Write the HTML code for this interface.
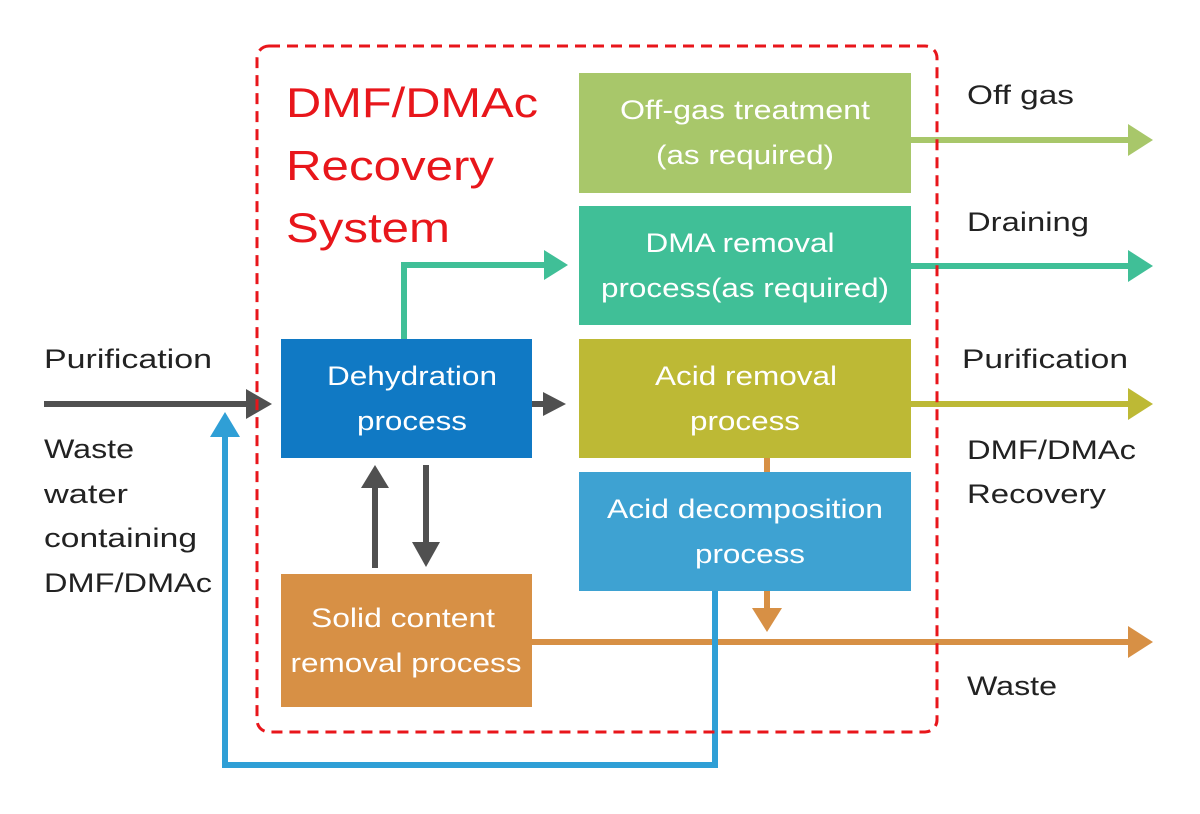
<!DOCTYPE html>
<html><head><meta charset="utf-8"><style>
html,body{margin:0;padding:0;background:#fff;}
svg{display:block;}
text{font-family:"Liberation Sans",sans-serif;}
.w{fill:#fff;font-size:27px;text-anchor:middle;}
.k{fill:#222;font-size:27px;}
.r{fill:#e8161b;font-size:42px;}
</style></head><body>
<svg width="1200" height="814" viewBox="0 0 1200 814" xmlns="http://www.w3.org/2000/svg">
<rect x="579" y="73" width="332" height="120" fill="#a8c76a"/>
<rect x="579" y="206" width="332" height="119" fill="#40bf97"/>
<rect x="579" y="339" width="332" height="119" fill="#bdb935"/>
<rect x="579" y="472" width="332" height="119" fill="#3ea2d2"/>
<rect x="281" y="339" width="251" height="119" fill="#1079c4"/>
<rect x="281" y="574" width="251" height="133" fill="#d79045"/>

<g stroke-width="6" fill="none">
<line x1="44" y1="404" x2="250" y2="404" stroke="#505050"/>
<line x1="532" y1="404" x2="548" y2="404" stroke="#505050"/>
<line x1="375" y1="568" x2="375" y2="485" stroke="#505050"/>
<line x1="426" y1="465" x2="426" y2="545" stroke="#505050"/>
<polyline points="404,339 404,265 546,265" stroke="#40bf97"/>
<line x1="911" y1="140" x2="1130" y2="140" stroke="#a8c76a"/>
<line x1="911" y1="266" x2="1130" y2="266" stroke="#40bf97"/>
<line x1="911" y1="404" x2="1130" y2="404" stroke="#bdb935"/>
<line x1="532" y1="642" x2="1130" y2="642" stroke="#d79045"/>
<line x1="767" y1="458" x2="767" y2="472" stroke="#d79045"/>
<line x1="767" y1="591" x2="767" y2="612" stroke="#d79045"/>
<polyline points="715,591 715,765 225,765 225,435" stroke="#2f9fd6"/>
</g>
<polygon points="246,389 272,404 246,419" fill="#505050"/>
<polygon points="543,392 566,404 543,416" fill="#505050"/>
<polygon points="361,488 375,465 389,488" fill="#505050"/>
<polygon points="412,542 426,567 440,542" fill="#505050"/>
<polygon points="544,250 568,265 544,280" fill="#40bf97"/>
<polygon points="1128,124 1153,140 1128,156" fill="#a8c76a"/>
<polygon points="1128,250 1153,266 1128,282" fill="#40bf97"/>
<polygon points="1128,388 1153,404 1128,420" fill="#bdb935"/>
<polygon points="1128,626 1153,642 1128,658" fill="#d79045"/>
<polygon points="752,608 767,632 782,608" fill="#d79045"/>
<polygon points="210,437 225,412 240,437" fill="#2f9fd6"/>

<rect x="257" y="46" width="680" height="686" rx="12" fill="none" stroke="#e8161b" stroke-width="3" stroke-dasharray="11,7"/>

<text class="r" x="286" y="117" textLength="252" lengthAdjust="spacingAndGlyphs">DMF/DMAc</text>
<text class="r" x="286" y="180" textLength="208" lengthAdjust="spacingAndGlyphs">Recovery</text>
<text class="r" x="286" y="242" textLength="164" lengthAdjust="spacingAndGlyphs">System</text>

<text class="w" x="745" y="119" textLength="250" lengthAdjust="spacingAndGlyphs">Off-gas treatment</text>
<text class="w" x="745" y="164" textLength="178" lengthAdjust="spacingAndGlyphs">(as required)</text>
<text class="w" x="740" y="252" textLength="189" lengthAdjust="spacingAndGlyphs">DMA removal</text>
<text class="w" x="745" y="297" textLength="288" lengthAdjust="spacingAndGlyphs">process(as required)</text>
<text class="w" x="746" y="385" textLength="182" lengthAdjust="spacingAndGlyphs">Acid removal</text>
<text class="w" x="745" y="430" textLength="110" lengthAdjust="spacingAndGlyphs">process</text>
<text class="w" x="745" y="518" textLength="276" lengthAdjust="spacingAndGlyphs">Acid decomposition</text>
<text class="w" x="750" y="563" textLength="110" lengthAdjust="spacingAndGlyphs">process</text>
<text class="w" x="412" y="385" textLength="170" lengthAdjust="spacingAndGlyphs">Dehydration</text>
<text class="w" x="412" y="430" textLength="110" lengthAdjust="spacingAndGlyphs">process</text>
<text class="w" x="403" y="627" textLength="184" lengthAdjust="spacingAndGlyphs">Solid content</text>
<text class="w" x="406" y="672" textLength="231" lengthAdjust="spacingAndGlyphs">removal process</text>

<text class="k" x="967" y="104" textLength="107" lengthAdjust="spacingAndGlyphs">Off gas</text>
<text class="k" x="967" y="231" textLength="122" lengthAdjust="spacingAndGlyphs">Draining</text>
<text class="k" x="962" y="368" textLength="166" lengthAdjust="spacingAndGlyphs">Purification</text>
<text class="k" x="967" y="459" textLength="169" lengthAdjust="spacingAndGlyphs">DMF/DMAc</text>
<text class="k" x="967" y="503" textLength="139" lengthAdjust="spacingAndGlyphs">Recovery</text>
<text class="k" x="967" y="695" textLength="90" lengthAdjust="spacingAndGlyphs">Waste</text>
<text class="k" x="44" y="368" textLength="168" lengthAdjust="spacingAndGlyphs">Purification</text>
<text class="k" x="44" y="458" textLength="90" lengthAdjust="spacingAndGlyphs">Waste</text>
<text class="k" x="44" y="503" textLength="84" lengthAdjust="spacingAndGlyphs">water</text>
<text class="k" x="44" y="547" textLength="153" lengthAdjust="spacingAndGlyphs">containing</text>
<text class="k" x="44" y="592" textLength="168" lengthAdjust="spacingAndGlyphs">DMF/DMAc</text>
</svg>
</body></html>
